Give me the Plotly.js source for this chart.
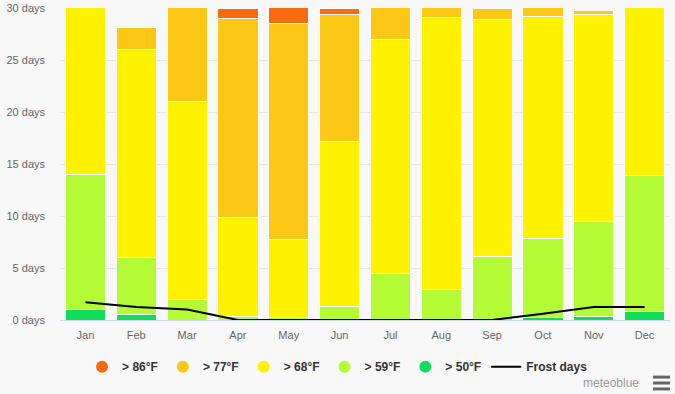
<!DOCTYPE html>
<html>
<head>
<meta charset="utf-8">
<script src="https://cdn.plot.ly/plotly-3.0.1.min.js"></script>
<style>html,body{margin:0;padding:0;background:#f8f8f8;}#chart{width:675px;height:394px;}</style>
</head>
<body>
<div id="chart"></div>
<script>
var months = ["Jan","Feb","Mar","Apr","May","Jun","Jul","Aug","Sep","Oct","Nov","Dec"];
var above50 = [1.0, 0.5, 0, 0, 0, 0, 0, 0, 0, 0.2, 0.3, 0.8];
var above59 = [13.0, 5.5, 2.0, 0.3, 0.2, 1.3, 4.5, 2.9, 6.1, 7.6, 9.2, 13.1];
var above68 = [17.0, 20.0, 19.0, 9.6, 7.5, 15.85, 22.5, 26.2, 22.8, 21.4, 19.9, 17.1];
var above77 = [0, 2.1, 10.0, 19.1, 20.8, 12.25, 4.0, 1.9, 1.1, 1.8, 0.4, 0];
var above86 = [0, 0, 0, 1.0, 2.5, 0.6, 0, 0, 0, 0, 0, 0];
var frostDays = [1.7, 1.25, 1.0, 0, 0, 0, 0, 0, 0, 0.6, 1.25, 1.25];

var seriesNames = ["> 86°F", "> 77°F", "> 68°F", "> 59°F", "> 50°F"];
var seriesColors = ["#fa6a0e", "#fcc715", "#fff200", "#b3fb35", "#10dd5c"];
var seriesData = [above86, above77, above68, above59, above50];

var traces = [];
// stacked bars bottom to top
for (var i = seriesData.length - 1; i >= 0; i--) {
  traces.push({
    type: "bar", x: months, y: seriesData[i], name: seriesNames[i],
    marker: {color: seriesColors[i], line: {color: "#ffffff", width: 1}},
    showlegend: false, hoverinfo: "y+name"
  });
}
// legend entries with round symbols
for (var j = 0; j < seriesNames.length; j++) {
  traces.push({
    type: "scatter", mode: "markers", x: [null], y: [null], name: seriesNames[j],
    marker: {color: seriesColors[j], size: 12, symbol: "circle"}, showlegend: true
  });
}
traces.push({
  type: "scatter", mode: "lines", x: months, y: frostDays, name: "Frost days",
  line: {color: "#000000", width: 2}
});

var layout = {
  width: 675, height: 394,
  paper_bgcolor: "#f8f8f8", plot_bgcolor: "#f8f8f8",
  margin: {l: 60, r: 5, t: 8, b: 74},
  barmode: "stack", bargap: 0.21,
  font: {family: "Liberation Sans, Arial, sans-serif", size: 11, color: "#666666"},
  xaxis: {
    type: "category", showgrid: false, showline: true, linecolor: "#ccd6eb", linewidth: 1,
    ticks: "", tickfont: {size: 11, color: "#666666"}, ticklabelstandoff: 5, fixedrange: true
  },
  yaxis: {
    range: [0, 30], dtick: 5, ticksuffix: " days", showgrid: true, gridcolor: "#e6e6e6",
    zeroline: false, tickfont: {size: 11, color: "#666666"}, ticklabelstandoff: 14, fixedrange: true
  },
  legend: {
    orientation: "h", x: 0.455, xanchor: "center", y: -0.15, yanchor: "middle",
    font: {size: 12, color: "#333333", family: "Liberation Sans, Arial, sans-serif", weight: "bold"},
    bgcolor: "rgba(0,0,0,0)", itemwidth: 30, traceorder: "normal"
  },
  annotations: [{
    xref: "paper", yref: "paper", x: 0.953, y: -0.202, xanchor: "right", yanchor: "middle",
    text: "meteoblue", showarrow: false, font: {size: 12, color: "#999999"}
  }],
  shapes: [
    {type: "line", xref: "paper", yref: "paper", x0: 0.972, x1: 1.0, y0: -0.183, y1: -0.183, line: {color: "#666666", width: 3}},
    {type: "line", xref: "paper", yref: "paper", x0: 0.972, x1: 1.0, y0: -0.202, y1: -0.202, line: {color: "#666666", width: 3}},
    {type: "line", xref: "paper", yref: "paper", x0: 0.972, x1: 1.0, y0: -0.221, y1: -0.221, line: {color: "#666666", width: 3}}
  ]
};

Plotly.newPlot("chart", traces, layout, {displayModeBar: false, staticPlot: true});
</script>
</body>
</html>
